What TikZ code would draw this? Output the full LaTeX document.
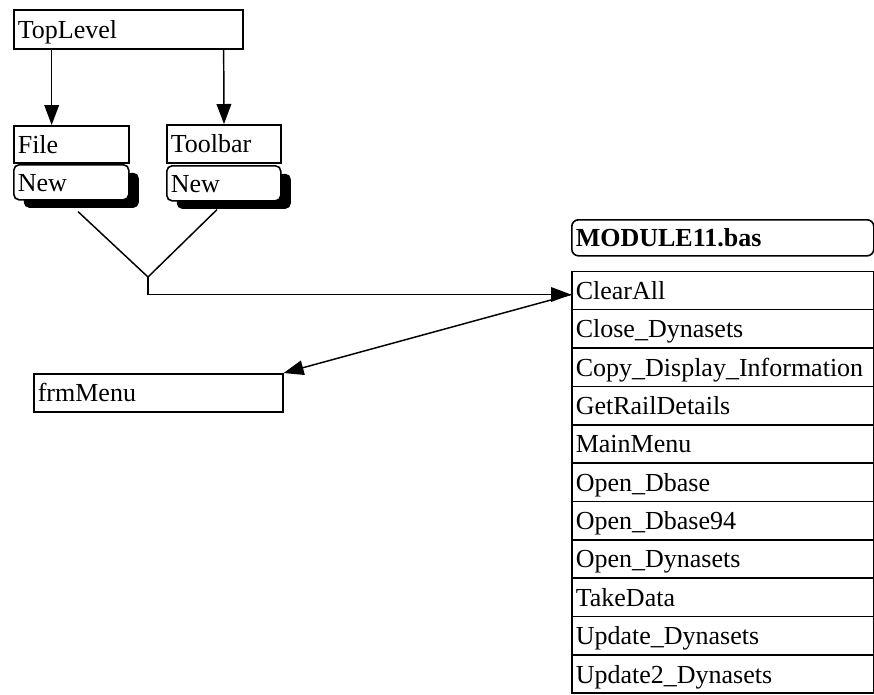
\documentclass[tikz,border=0pt]{standalone}
\usepackage{fontspec}
\setmainfont{Liberation Serif}
\usetikzlibrary{arrows.meta, shadows}

\tikzset{
  box/.style={draw, fill=white, line width=1.2pt, anchor=north west, inner xsep=3pt, inner ysep=0pt,
    align=left, text height=13.5pt, text depth=0pt},
  newbox/.style={box, rounded corners=4pt, general shadow={fill=black, shadow xshift=7.5pt, shadow yshift=-6pt}},
  row/.style={box, text width=220.5pt, minimum height=28.8pt},
  link/.style={line width=1.1pt},
}

\begin{document}
\begin{tikzpicture}[x=0.75pt, y=-0.75pt, >={Triangle[length=15pt,width=11pt]}, font=\fontsize{19.5}{22}\selectfont]
    \useasboundingbox (0,0) rectangle (874,694);

    % --- menu tree ---
    \node[box, text width=165.75pt, minimum height=29.25pt] (top) at (13,9) {TopLevel};
    \node[box, text width=80.25pt, minimum height=27.75pt] (file) at (13,125) {File};
    \node[newbox, text width=80.25pt, minimum height=26.25pt] (filenew) at (13,164) {New};
    \node[box, text width=79.5pt, minimum height=28.5pt] (tool) at (166,124) {Toolbar};
    \node[newbox, text width=79.5pt, minimum height=26.25pt] (toolnew) at (166,165) {New};

    % --- form ---
    \node[box, text width=180.75pt, minimum height=28.5pt] (frm) at (33,373) {frmMenu};

    % --- module and its procedures ---
    \node[box, rounded corners=5pt, text width=220.5pt, minimum height=27pt] (mod) at (571,219) {\bfseries MODULE11.bas};
    \foreach \name [count=\i] in {ClearAll, Close\_Dynasets, Copy\_Display\_Information, GetRailDetails,
        MainMenu, Open\_Dbase, Open\_Dbase94, Open\_Dynasets, TakeData, Update\_Dynasets, Update2\_Dynasets}
        \node[row] (r\i) at (571, {270.5+(\i-1)*38.35}) {\name};

    % --- connectors ---
    \draw[link, ->] ([xshift=29pt]top.south west) -- ([xshift=29pt]file.north west);
    \draw[link, ->] ([xshift=158pt]top.south west) -- ([xshift=43.5pt]tool.north west);

    \coordinate (join) at (148,277);
    \draw[link] ([xshift=48.75pt, yshift=-8.25pt]filenew.south west) -- (join)
        -- ([xshift=38.25pt, yshift=-6pt]toolnew.south west);
    \draw[link, ->] (join) |- ([yshift=-3pt]r1.west);
    \draw[link, ->] ([yshift=-3pt]r1.west) -- (frm.north east);
\end{tikzpicture}
\end{document}
